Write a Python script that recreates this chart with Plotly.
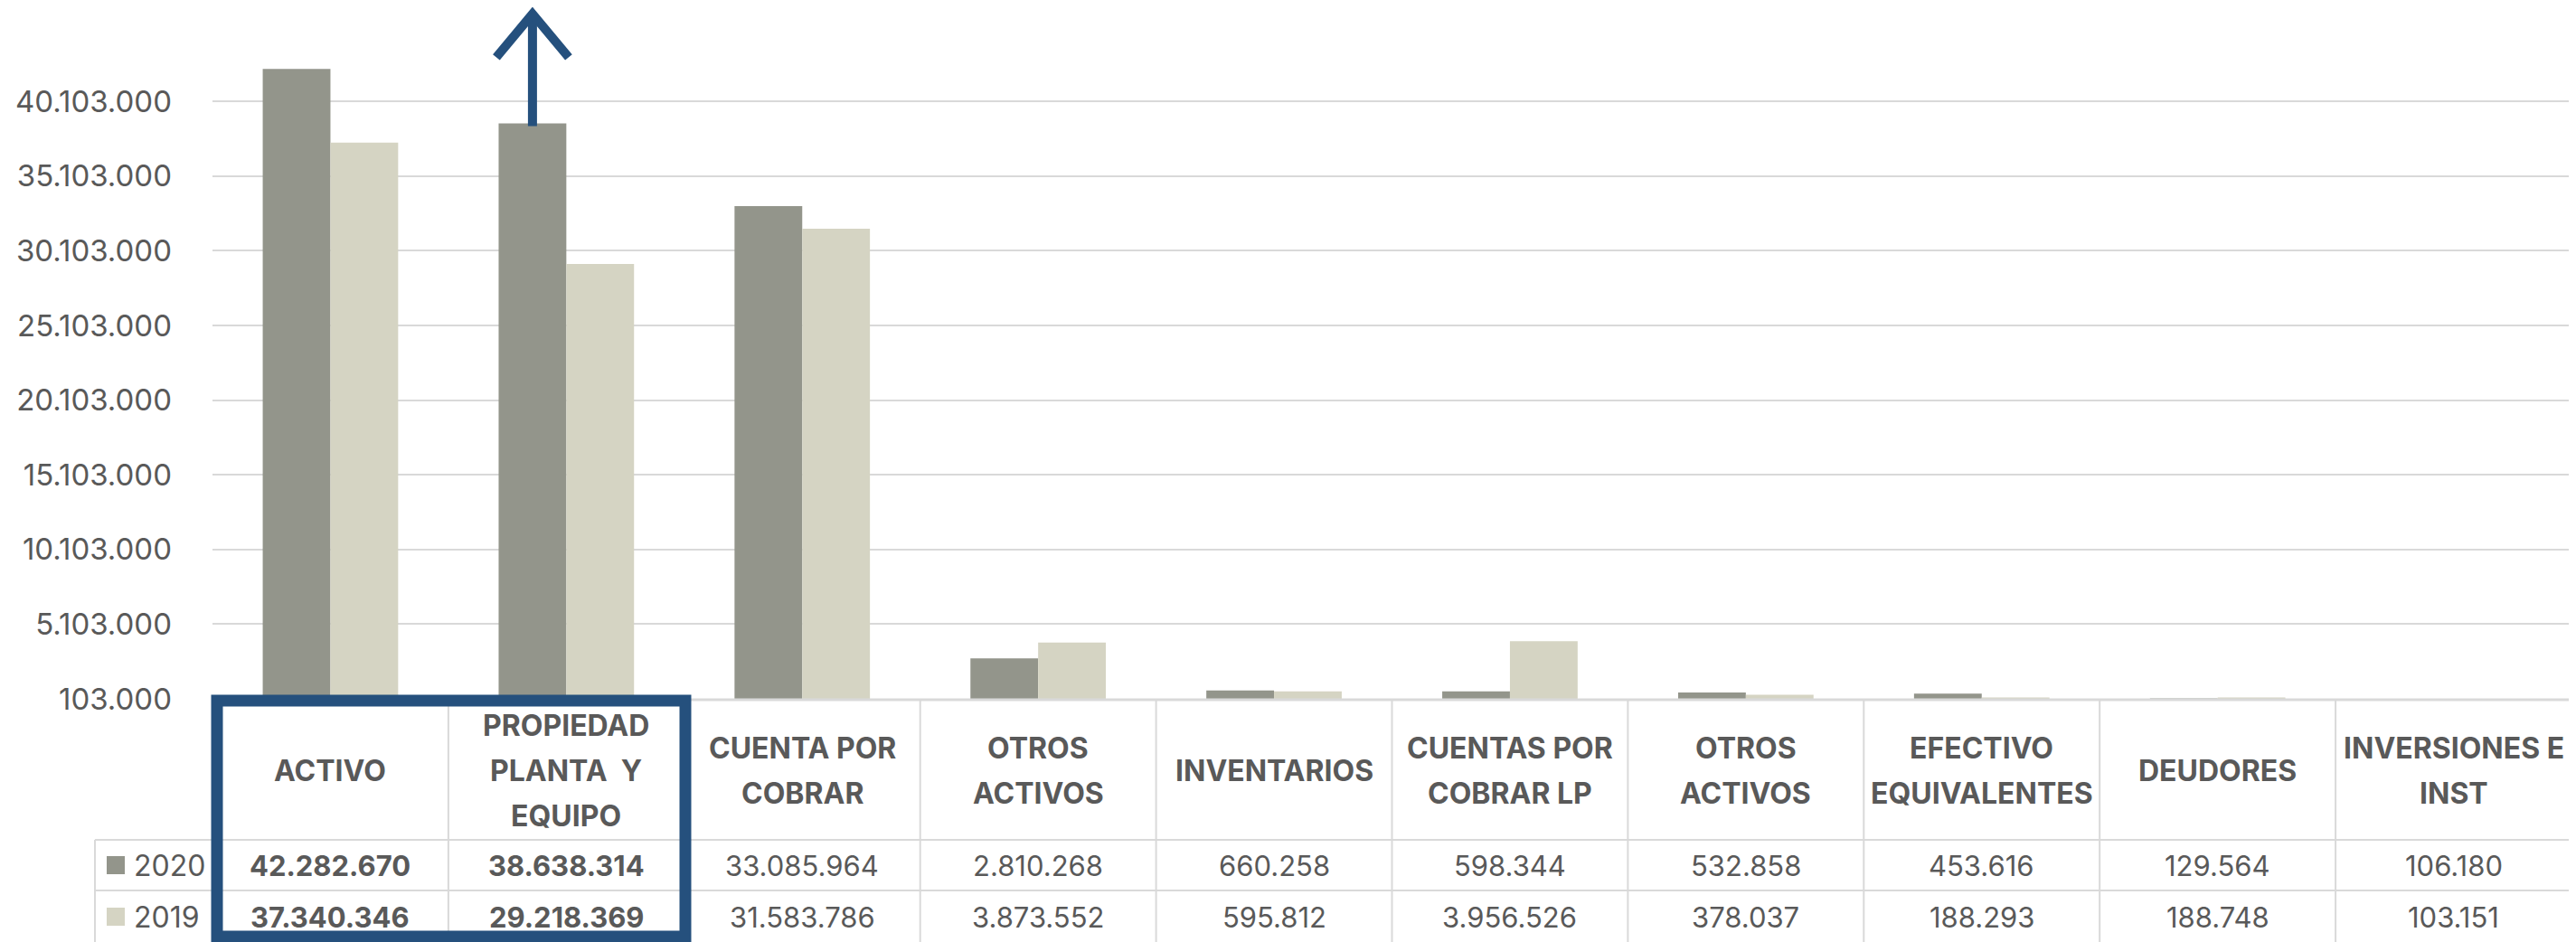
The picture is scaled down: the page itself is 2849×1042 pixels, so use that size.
import plotly.graph_objects as go

# ---------------- data ----------------
categories = [
    "ACTIVO",
    "PROPIEDAD\nPLANTA  Y\nEQUIPO",
    "CUENTA POR\nCOBRAR",
    "OTROS\nACTIVOS",
    "INVENTARIOS",
    "CUENTAS POR\nCOBRAR LP",
    "OTROS\nACTIVOS",
    "EFECTIVO\nEQUIVALENTES",
    "DEUDORES",
    "INVERSIONES E\nINST",
]
values_2020 = [42282670, 38638314, 33085964, 2810268, 660258, 598344, 532858, 453616, 129564, 106180]
values_2019 = [37340346, 29218369, 31583786, 3873552, 595812, 3956526, 378037, 188293, 188748, 103151]
series_names = ["2020", "2019"]
bold_columns = [0, 1]
y_tick_values = [103000, 5103000, 10103000, 15103000, 20103000, 25103000, 30103000, 35103000, 40103000]

# ---------------- styling / layout constants ----------------
OFF = 8  # page body margin offset
W, H = 2849, 1042
# positions below measured in screenshot pixels
PLOT_LEFT_S, PLOT_RIGHT_S, PLOT_BOTTOM_S = 235, 2844, 773
L = PLOT_LEFT_S - OFF
R = W - (PLOT_RIGHT_S - OFF)
T = 0
B = H - (PLOT_BOTTOM_S - OFF)
PW, PH = W - L - R, H - T - B
PX_PER_UNIT = 16.52 / 1e6
Y_MIN = 103000
Y_MAX = Y_MIN + PH / PX_PER_UNIT

C2020 = "#93958B"
C2019 = "#D5D4C3"
TXT = "#595959"
GRID = "#D9D9D9"
BLUE = "#25507D"
FONT = "Inter"
BARGAP = 0.426


def fmt(v):
    return f"{v:,}".replace(",", ".")


def pxx(px):  # screenshot x -> paper
    return (px - OFF - L) / PW


def pxy(py):  # screenshot y -> paper
    return (T + PH - (py - OFF)) / PH


x_idx = list(range(len(categories)))

fig = go.Figure()
fig.add_trace(go.Bar(x=x_idx, y=values_2020, name=series_names[0], marker=dict(color=C2020, line=dict(width=0))))
fig.add_trace(go.Bar(x=x_idx, y=values_2019, name=series_names[1], marker=dict(color=C2019, line=dict(width=0))))

shapes = []
annotations = []

n = len(categories)
header_top, row1_top, row2_top, table_bottom = 773, 929, 985, 1060
legend_left = 105
line = dict(color=GRID, width=2)
shapes.append(dict(type="line", xref="paper", yref="paper", x0=0, x1=1, y0=pxy(header_top + 1), y1=pxy(header_top + 1),
                   line=dict(color=GRID, width=3), layer="above"))
for py in (row1_top, row2_top):
    shapes.append(dict(type="line", xref="paper", yref="paper", x0=pxx(legend_left), x1=1, y0=pxy(py), y1=pxy(py), line=line))
for i in range(n + 1):
    shapes.append(dict(type="line", xref="paper", yref="paper", x0=i / n, x1=i / n, y0=pxy(header_top), y1=pxy(table_bottom), line=line))
shapes.append(dict(type="line", xref="paper", yref="paper", x0=pxx(legend_left), x1=pxx(legend_left),
                   y0=pxy(row1_top), y1=pxy(table_bottom), line=line))

# header labels (one annotation per line)
line_gap = 50
header_center = 852
for i, cat in enumerate(categories):
    lines = cat.split("\n")
    for k, txt in enumerate(lines):
        cy = header_center + (k - (len(lines) - 1) / 2) * line_gap
        annotations.append(dict(x=i, xref="x", y=pxy(cy), yref="paper", text=f"<b>{txt}</b>", showarrow=False,
                                xanchor="center", yanchor="middle", font=dict(family=FONT, size=32, color=TXT)))

# values rows + legend cells
row_centers = [957, 1014]
for r, (vals, name, col) in enumerate(zip([values_2020, values_2019], series_names, [C2020, C2019])):
    cy = row_centers[r]
    for i, v in enumerate(vals):
        t = fmt(v)
        if i in bold_columns:
            t = f"<b>{t}</b>"
        annotations.append(dict(x=i, xref="x", y=pxy(cy), yref="paper", text=t, showarrow=False,
                                xanchor="center", yanchor="middle", font=dict(family=FONT, size=31, color=TXT)))
    shapes.append(dict(type="rect", xref="paper", yref="paper", x0=pxx(118), x1=pxx(138),
                       y0=pxy(cy - 10), y1=pxy(cy + 10), fillcolor=col, line=dict(width=0)))
    annotations.append(dict(x=pxx(146), xref="paper", y=pxy(cy), yref="paper", text=name, showarrow=False,
                            xanchor="left", yanchor="middle", font=dict(family=FONT, size=32, color=TXT)))

# blue highlight box around first two columns
shapes.append(dict(type="rect", xref="paper", yref="paper", x0=pxx(240), x1=pxx(758),
                   y0=pxy(1036), y1=pxy(775), line=dict(color=BLUE, width=13), fillcolor="rgba(0,0,0,0)", layer="above"))

# arrow above PROPIEDAD 2020 bar
bar_off = -(1 - BARGAP) / 4
ax = 1 + bar_off
base = values_2020[1]
units_per_px = 1 / PX_PER_UNIT
tip = base + 121 * units_per_px
wing = tip - 48 * units_per_px
dx = 40 / (PW / n)
shapes.append(dict(type="line", xref="x", yref="y", x0=ax, x1=ax, y0=base - 3 * units_per_px, y1=tip - 5 * units_per_px,
                   line=dict(color=BLUE, width=10), layer="above"))
shapes.append(dict(type="path", xref="x", yref="y",
                   path=f"M {ax - dx},{wing} L {ax},{tip} L {ax + dx},{wing}",
                   line=dict(color=BLUE, width=10), layer="above"))

fig.update_layout(
    width=W, height=H,
    margin=dict(l=L, r=R, t=T, b=B, pad=0),
    paper_bgcolor="white", plot_bgcolor="white",
    barmode="group", bargap=BARGAP, bargroupgap=0,
    showlegend=False,
    font=dict(family=FONT, color=TXT),
    xaxis=dict(range=[-0.5, n - 0.5], visible=False, fixedrange=True),
    yaxis=dict(range=[Y_MIN, Y_MAX], tickvals=y_tick_values, ticktext=[fmt(v) for v in y_tick_values],
               showgrid=True, gridcolor=GRID, gridwidth=2, zeroline=False, showline=False,
               tickfont=dict(family=FONT, size=33, color=TXT), ticks="", ticklabelstandoff=44),
    shapes=shapes,
    annotations=annotations,
)

fig.write_html("out.html")
